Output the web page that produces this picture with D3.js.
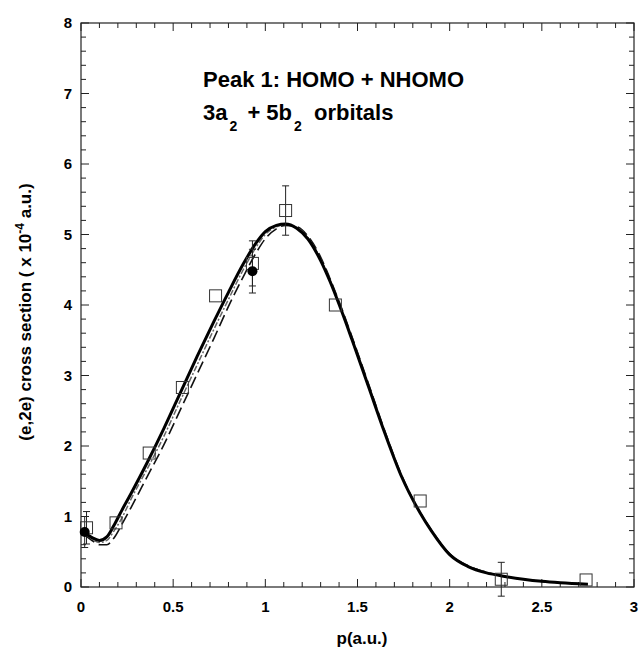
<!DOCTYPE html>
<html><head><meta charset="utf-8">
<script src="https://cdn.jsdelivr.net/npm/d3@7"></script>
<style>body{margin:0;background:#fff}svg text{font-family:Arial,"Liberation Sans",sans-serif;font-weight:bold}</style>
</head><body>
<svg id="c" width="639" height="651"></svg>
<script>
const pGrid = [0.02,0.06,0.10,0.14,0.18,0.22,0.27,0.36,0.45,0.54,0.63,0.72,0.80,0.88,0.95,1.00,1.06,1.11,1.17,1.23,1.30,1.35,1.40,1.47,1.56,1.65,1.74,1.84,1.90,2.00,2.10,2.20,2.30,2.40,2.50,2.60,2.75];
const theoryMain = [0.77,0.70,0.66,0.71,0.88,1.08,1.32,1.77,2.25,2.76,3.27,3.76,4.18,4.58,4.88,5.04,5.13,5.15,5.09,4.94,4.63,4.34,4.01,3.51,2.84,2.17,1.56,1.05,0.80,0.46,0.29,0.20,0.15,0.11,0.08,0.06,0.04];
const theoryDash = [0.74,0.66,0.60,0.60,0.70,0.88,1.12,1.57,2.02,2.52,3.02,3.52,3.98,4.40,4.74,4.94,5.08,5.13,5.11,4.98,4.68,4.38,4.05,3.55,2.88,2.20,1.58,1.06,0.81,0.47,0.30,0.21,0.15,0.11,0.08,0.06,0.04];
const theoryDot = [0.76,0.68,0.63,0.66,0.80,0.97,1.24,1.68,2.14,2.65,3.15,3.65,4.08,4.50,4.82,5.00,5.11,5.14,5.10,4.96,4.65,4.36,4.03,3.53,2.86,2.19,1.57,1.06,0.81,0.47,0.30,0.21,0.15,0.11,0.08,0.06,0.04];

const expP = [0.03,0.19,0.37,0.55,0.73,0.93,1.11,1.38,1.84,2.28,2.74];
const expV = [0.84,0.91,1.90,2.83,4.13,4.59,5.34,4.00,1.22,0.11,0.10];
const expErr = [0.23,0,0,0,0,0.32,0.35,0,0,0.24,0];

const fillP = [0.02,0.93];
const fillV = [0.78,4.48];
const fillErr = [0.22,0.31];

const xTicks = [0,0.5,1,1.5,2,2.5,3];
const yTicks = [0,1,2,3,4,5,6,7,8];

const svg = d3.select('#c');
const L=81, R=634, T=23, B=587;
const x = d3.scaleLinear().domain([0,3]).range([L,R]);
const y = d3.scaleLinear().domain([0,8]).range([B,T]);

// frame
svg.append('rect').attr('x',L).attr('y',T).attr('width',R-L).attr('height',B-T)
  .attr('fill','none').attr('stroke','#222').attr('stroke-width',1.2);

// ticks
const xMinor = d3.range(0,3.001,0.1);
const yMinor = d3.range(0,8.001,0.2);
const tg = svg.append('g').attr('stroke','#222').attr('stroke-width',1);
xMinor.forEach(v=>{
  const major = Math.abs(v*2-Math.round(v*2))<1e-6;
  const len = major?8:5;
  tg.append('line').attr('x1',x(v)).attr('x2',x(v)).attr('y1',B).attr('y2',B-len);
  tg.append('line').attr('x1',x(v)).attr('x2',x(v)).attr('y1',T).attr('y2',T+len);
});
yMinor.forEach(v=>{
  const major = Math.abs(v-Math.round(v))<1e-6;
  const len = major?8:5;
  tg.append('line').attr('y1',y(v)).attr('y2',y(v)).attr('x1',L).attr('x2',L+len);
  tg.append('line').attr('y1',y(v)).attr('y2',y(v)).attr('x1',R).attr('x2',R-len);
});

// tick labels
svg.append('g').selectAll('text').data(xTicks).join('text')
  .attr('x',d=>x(d)).attr('y',612).attr('text-anchor','middle')
  .attr('font-size',15).text(d=>d);
svg.append('g').selectAll('text').data(yTicks).join('text')
  .attr('x',72).attr('y',d=>y(d)+5).attr('text-anchor','end')
  .attr('font-size',15).text(d=>d);

// axis titles
svg.append('text').attr('x',362).attr('y',644).attr('text-anchor','middle')
  .attr('font-size',17).text('p(a.u.)');
const yt = svg.append('text').attr('transform','translate(31,312) rotate(-90)')
  .attr('text-anchor','middle').attr('font-size',17);
yt.append('tspan').text('(e,2e) cross section ( x 10');
yt.append('tspan').attr('dy',-7).attr('font-size',12).text('-4');
yt.append('tspan').attr('dy',7).text(' a.u.)');

// annotation
svg.append('text').attr('x',203).attr('y',87).attr('font-size',22).text('Peak 1: HOMO + NHOMO');
const t2 = svg.append('text').attr('x',203).attr('y',120).attr('font-size',22);
t2.append('tspan').text('3a');
t2.append('tspan').attr('dy',11).attr('dx',2).attr('font-size',14).text('2');
t2.append('tspan').attr('dy',-11).attr('dx',4).text(' + 5b');
t2.append('tspan').attr('dy',11).attr('dx',2).attr('font-size',14).text('2');
t2.append('tspan').attr('dy',-11).attr('dx',6).text(' orbitals');

// curves
const line = d3.line().x((d,i)=>x(pGrid[i])).y(d=>y(d)).curve(d3.curveMonotoneX);
svg.append('path').attr('d',line(theoryDash)).attr('fill','none').attr('stroke','#111')
  .attr('stroke-width',1.6).attr('stroke-dasharray','12,5');
svg.append('path').attr('d',line(theoryDot)).attr('fill','none').attr('stroke','#666')
  .attr('stroke-width',1.5).attr('stroke-dasharray','6,2,2,2');
svg.append('path').attr('d',line(theoryMain)).attr('fill','none').attr('stroke','#000')
  .attr('stroke-width',3);

// error bars
const eg = svg.append('g').attr('stroke','#222').attr('stroke-width',1);
function errbar(p,v,e){
  if(!e) return;
  eg.append('line').attr('x1',x(p)).attr('x2',x(p)).attr('y1',y(v-e)).attr('y2',y(v+e));
  [v-e,v+e].forEach(t=>eg.append('line').attr('x1',x(p)-3.5).attr('x2',x(p)+3.5).attr('y1',y(t)).attr('y2',y(t)));
}
expP.forEach((p,i)=>errbar(p,expV[i],expErr[i]));
fillP.forEach((p,i)=>errbar(p,fillV[i],fillErr[i]));

// open squares
svg.append('g').selectAll('rect').data(expP).join('rect')
  .attr('x',(d)=>x(d)-6).attr('y',(d,i)=>y(expV[i])-6).attr('width',12).attr('height',12)
  .attr('fill','none').attr('stroke','#333').attr('stroke-width',1);
// filled circles
svg.append('g').selectAll('circle').data(fillP).join('circle')
  .attr('cx',d=>x(d)).attr('cy',(d,i)=>y(fillV[i])).attr('r',5).attr('fill','#000');
</script>
</body></html>
